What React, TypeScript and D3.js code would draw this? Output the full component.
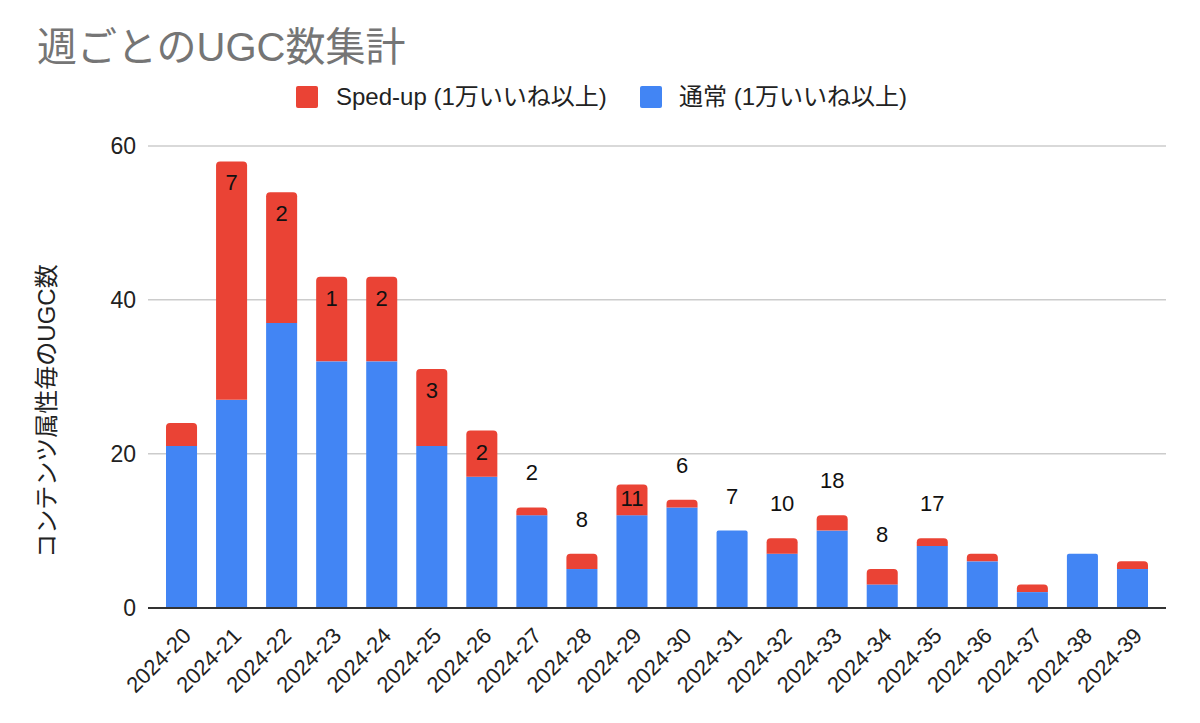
import * as d3 from "d3";

const weeks = [
  "2024-20", "2024-21", "2024-22", "2024-23", "2024-24",
  "2024-25", "2024-26", "2024-27", "2024-28", "2024-29",
  "2024-30", "2024-31", "2024-32", "2024-33", "2024-34",
  "2024-35", "2024-36", "2024-37", "2024-38", "2024-39",
];

// 通常 (1万いいね以上)
const normal = [21, 27, 37, 32, 32, 21, 17, 12, 5, 12, 13, 10, 7, 10, 3, 8, 6, 2, 7, 5];
// Sped-up (1万いいね以上)
const spedUp = [3, 31, 17, 11, 11, 10, 6, 1, 2, 4, 1, 0, 2, 2, 2, 1, 1, 1, 0, 1];
// data labels shown on the Sped-up series
const spedLabels: (number | null)[] = [
  null, 7, 2, 1, 2, 3, 2, 2, 8, 11, 6, 7, 10, 18, 8, 17, null, null, null, null,
];

const yTicks = [0, 20, 40, 60];

const RED = "#ea4335";
const BLUE = "#4285f4";
const FONT = "'Liberation Sans', Arial, 'Noto Sans CJK JP', sans-serif";

const W = 1200;
const H = 723;

function topRounded(x: number, y: number, w: number, h: number, r: number) {
  const rr = Math.min(r, h, w / 2);
  const p = d3.path();
  p.moveTo(x, y + h);
  p.lineTo(x, y + rr);
  p.arcTo(x, y, x + rr, y, rr);
  p.lineTo(x + w - rr, y);
  p.arcTo(x + w, y, x + w, y + rr, rr);
  p.lineTo(x + w, y + h);
  p.closePath();
  return p.toString();
}

export default function App() {
  const x = d3
    .scaleBand<string>()
    .domain(weeks)
    .range([156.5, 1157.5])
    .paddingInner(0.38)
    .paddingOuter(0.19);

  const y = d3.scaleLinear().domain([0, 60]).range([607.5, 146]);

  const gridX0 = 148;
  const gridX1 = 1166;

  return (
    <svg
      width={W}
      height={H}
      style={{ position: "absolute", left: 0, top: 0, background: "#fff" }}
      fontFamily={FONT}
    >
      <rect width={W} height={H} fill="#fff" />

      <text x={37} y={61} fontSize={40} fill="#757575">
        週ごとのUGC数集計
      </text>

      {/* legend */}
      <g>
        <rect x={296} y={86} width={22} height={22} rx={2} fill={RED} />
        <text x={336} y={105} fontSize={24} fill="#222">
          Sped-up (1万いいね以上)
        </text>
        <rect x={640} y={86} width={22} height={22} rx={2} fill={BLUE} />
        <text x={679} y={105} fontSize={24} fill="#222">
          通常 (1万いいね以上)
        </text>
      </g>

      {/* gridlines and y ticks */}
      {yTicks.map((t) => (
        <g key={t}>
          {t !== 0 && (
            <line
              x1={gridX0}
              x2={gridX1}
              y1={y(t)}
              y2={y(t)}
              stroke="#cccccc"
              strokeWidth={1.5}
            />
          )}
          <text
            x={136}
            y={y(t)}
            dy="0.36em"
            textAnchor="end"
            fontSize={23}
            fill="#222"
          >
            {t}
          </text>
        </g>
      ))}

      <text
        transform={`translate(55, 411) rotate(-90)`}
        textAnchor="middle"
        fontSize={24}
        fill="#222"
      >
        コンテンツ属性毎のUGC数
      </text>

      {/* bars */}
      {weeks.map((w, i) => {
        const bx = x(w)!;
        const bw = x.bandwidth();
        const b0 = y(0);
        const b1 = y(normal[i]);
        const r1 = y(normal[i] + spedUp[i]);
        return (
          <g key={w}>
            {spedUp[i] > 0 ? (
              <>
                <rect x={bx} y={b1} width={bw} height={b0 - b1} fill={BLUE} />
                <path d={topRounded(bx, r1, bw, b1 - r1, 4)} fill={RED} />
              </>
            ) : (
              <path d={topRounded(bx, b1, bw, b0 - b1, 2)} fill={BLUE} />
            )}
          </g>
        );
      })}

      {/* data labels */}
      {weeks.map((w, i) => {
        const lab = spedLabels[i];
        if (lab == null) return null;
        const cx = x(w)! + x.bandwidth() / 2;
        const top = y(normal[i] + spedUp[i]);
        const segH = y(normal[i]) - top;
        let ly: number;
        if (segH >= 40) ly = top + 21;
        else if (segH >= 28) ly = top + segH / 2 - 2;
        else ly = top - 35;
        return (
          <text
            key={w}
            x={cx}
            y={ly}
            dy="0.36em"
            textAnchor="middle"
            fontSize={22}
            fill="#111"
          >
            {lab}
          </text>
        );
      })}

      {/* baseline */}
      <line
        x1={gridX0}
        x2={gridX1}
        y1={y(0) + 0.5}
        y2={y(0) + 0.5}
        stroke="#333"
        strokeWidth={2}
      />

      {/* x tick labels */}
      {weeks.map((w) => {
        const cx = x(w)! + x.bandwidth() / 2;
        return (
          <text
            key={w}
            transform={`translate(${cx + 11}, 637) rotate(-45)`}
            textAnchor="end"
            fontSize={22}
            fill="#222"
          >
            {w}
          </text>
        );
      })}
    </svg>
  );
}
